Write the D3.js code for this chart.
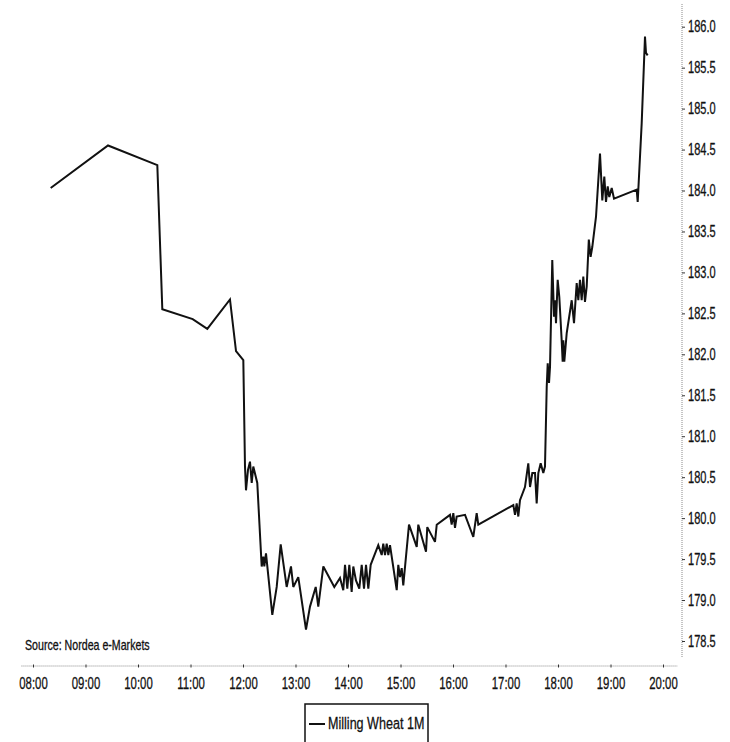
<!DOCTYPE html>
<html>
<head>
<meta charset="utf-8">
<script src="https://cdn.jsdelivr.net/npm/d3@7/dist/d3.min.js"></script>
<style>
  html, body { margin: 0; padding: 0; background: #fff; }
  svg { display: block; }
  text { font-family: "Liberation Sans Narrow", "Arial Narrow", "Liberation Sans", Arial, sans-serif; fill: #111; stroke: #111; stroke-width: 0.3px; }
</style>
</head>
<body>
<svg id="chart" width="730" height="742"></svg>
<script>
// ---- data (decimal hours, price) ----
const hours = [
  8.337, 9.429, 10.368, 10.463, 11.042, 11.320, 11.752, 11.867, 12.006, 12.038,
  12.057, 12.095, 12.133, 12.166, 12.196, 12.272, 12.356, 12.387, 12.406, 12.438,
  12.558, 12.642, 12.718, 12.832, 12.914, 12.958, 13.053, 13.200, 13.276, 13.385,
  13.434, 13.530, 13.739, 13.848, 13.910, 13.943, 13.987, 14.025, 14.070, 14.101,
  14.152, 14.215, 14.261, 14.305, 14.343, 14.387, 14.432, 14.577, 14.642, 14.672,
  14.705, 14.737, 14.768, 14.800, 14.928, 14.958, 14.990, 15.023, 15.053, 15.162,
  15.309, 15.339, 15.486, 15.510, 15.657, 15.690, 15.943, 15.975, 16.006, 16.038,
  16.070, 16.229, 16.387, 16.451, 16.482, 17.149, 17.181, 17.213, 17.244, 17.276,
  17.371, 17.434, 17.467, 17.511, 17.562, 17.594, 17.625, 17.670, 17.720, 17.752,
  17.785, 17.804, 17.829, 17.848, 17.891, 17.924, 17.943, 17.962, 17.994, 18.025,
  18.070, 18.089, 18.101, 18.120, 18.166, 18.261, 18.305, 18.356, 18.387, 18.419,
  18.451, 18.482, 18.514, 18.547, 18.587, 18.621, 18.653, 18.724, 18.800, 18.844,
  18.882, 18.914, 18.947, 18.977, 19.023, 19.067, 19.499, 19.518, 19.530, 19.594,
  19.657, 19.676, 19.708
];
const prices = [
  184.03, 184.55, 184.31, 182.55, 182.43, 182.31, 182.67, 182.04, 181.93, 180.63,
  180.34, 180.59, 180.69, 180.43, 180.63, 180.43, 179.41, 179.53, 179.41, 179.57,
  178.82, 179.16, 179.68, 179.16, 179.41, 179.16, 179.28, 178.64, 178.92, 179.16,
  178.92, 179.41, 179.16, 179.27, 179.12, 179.43, 179.14, 179.43, 179.10, 179.41,
  179.24, 179.14, 179.43, 179.14, 179.43, 179.14, 179.43, 179.67, 179.55, 179.69,
  179.55, 179.69, 179.55, 179.67, 179.12, 179.43, 179.28, 179.39, 179.18, 179.92,
  179.65, 179.92, 179.59, 179.89, 179.71, 179.92, 180.04, 179.92, 180.06, 179.88,
  180.02, 180.04, 179.77, 180.06, 179.92, 180.16, 180.04, 180.18, 180.02, 180.22,
  180.38, 180.67, 180.38, 180.55, 180.55, 180.18, 180.55, 180.67, 180.55, 180.63,
  181.60, 181.89, 181.65, 181.85, 183.15, 182.46, 182.66, 182.38, 182.91, 182.70,
  182.17, 181.91, 182.17, 181.91, 182.26, 182.66, 182.38, 182.87, 182.66, 182.91,
  182.66, 182.95, 182.64, 182.83, 183.40, 183.19, 183.31, 183.68, 184.45, 183.88,
  184.17, 183.86, 184.05, 183.92, 184.03, 183.90, 184.01, 183.86, 184.01, 184.82,
  185.88, 185.68, 185.65
];
const xTickHours = [8, 9, 10, 11, 12, 13, 14, 15, 16, 17, 18, 19, 20];
const xTickLabels = ["08:00","09:00","10:00","11:00","12:00","13:00","14:00","15:00","16:00","17:00","18:00","19:00","20:00"];
const yTicks = [178.5, 179.0, 179.5, 180.0, 180.5, 181.0, 181.5, 182.0, 182.5, 183.0, 183.5, 184.0, 184.5, 185.0, 185.5, 186.0];
const seriesName = "Milling Wheat 1M";
const sourceText = "Source: Nordea e-Markets";

// ---- layout ----
const svg = d3.select("#chart");
const x = d3.scaleLinear().domain([8, 20]).range([33, 663]);
const y = d3.scaleLinear().domain([178.5, 186.0]).range([641, 26.7]);
const yAxisX = 682;
const xAxisY = 666;
const tickScale = 0.69;   // condensed type

// y axis (right side, dotted)
svg.append("line")
  .attr("x1", yAxisX).attr("x2", yAxisX)
  .attr("y1", 4).attr("y2", 657)
  .attr("stroke", "#8a8a8a").attr("stroke-width", 1)
  .attr("stroke-dasharray", "1,1");

const yAxis = d3.axisRight(y).tickValues(yTicks).tickFormat(d3.format(".1f")).tickSize(3).tickPadding(3);
const yg = svg.append("g").attr("transform", `translate(${yAxisX},0)`).call(yAxis);
yg.select(".domain").remove();
yg.selectAll(".tick line").attr("stroke", "#333").attr("stroke-width", 1);
yg.selectAll(".tick text")
  .attr("font-size", 16)
  .attr("x", 6 / tickScale)
  .attr("transform", `scale(${tickScale},1)`)
  .attr("fill", "#111")
  .style("font-family", '"Liberation Sans Narrow", "Arial Narrow", "Liberation Sans", Arial, sans-serif');

// x axis (bottom, dotted)
svg.append("line")
  .attr("x1", x(7.78)).attr("x2", x(20.28))
  .attr("y1", xAxisY).attr("y2", xAxisY)
  .attr("stroke", "#8a8a8a").attr("stroke-width", 1)
  .attr("stroke-dasharray", "1,1");

const xAxis = d3.axisBottom(x).tickValues(xTickHours)
  .tickFormat((d, i) => xTickLabels[i]).tickSize(3).tickPadding(10);
const xg = svg.append("g").attr("transform", `translate(0,${xAxisY - 1.5})`).call(xAxis);
xg.select(".domain").remove();
xg.selectAll(".tick line").attr("stroke", "#333").attr("stroke-width", 1);
xg.selectAll(".tick text")
  .attr("font-size", 16.5)
  .attr("transform", `scale(${tickScale},1)`)
  .attr("fill", "#111")
  .style("font-family", '"Liberation Sans Narrow", "Arial Narrow", "Liberation Sans", Arial, sans-serif');

// price line
const data = hours.map((h, i) => ({ h, v: prices[i] }));
const line = d3.line().x(d => x(d.h)).y(d => y(d.v));
svg.append("path")
  .datum(data)
  .attr("d", line)
  .attr("fill", "none")
  .attr("stroke", "#111")
  .attr("stroke-width", 2)
  .attr("stroke-linejoin", "miter")
  .attr("stroke-miterlimit", 3);

// source note
svg.append("text")
  .attr("transform", "translate(25,650) scale(0.76,1)")
  .attr("font-size", 14)
  .text(sourceText);

// legend
const lg = svg.append("g");
lg.append("rect")
  .attr("x", 305).attr("y", 704)
  .attr("width", 123).attr("height", 50)
  .attr("fill", "#fff").attr("stroke", "#111").attr("stroke-width", 1.5);
lg.append("line")
  .attr("x1", 309).attr("x2", 325)
  .attr("y1", 724).attr("y2", 724)
  .attr("stroke", "#111").attr("stroke-width", 2);
lg.append("text")
  .attr("transform", "translate(328,728.5) scale(0.74,1)")
  .attr("font-size", 17)
  .text(seriesName);
</script>
</body>
</html>
